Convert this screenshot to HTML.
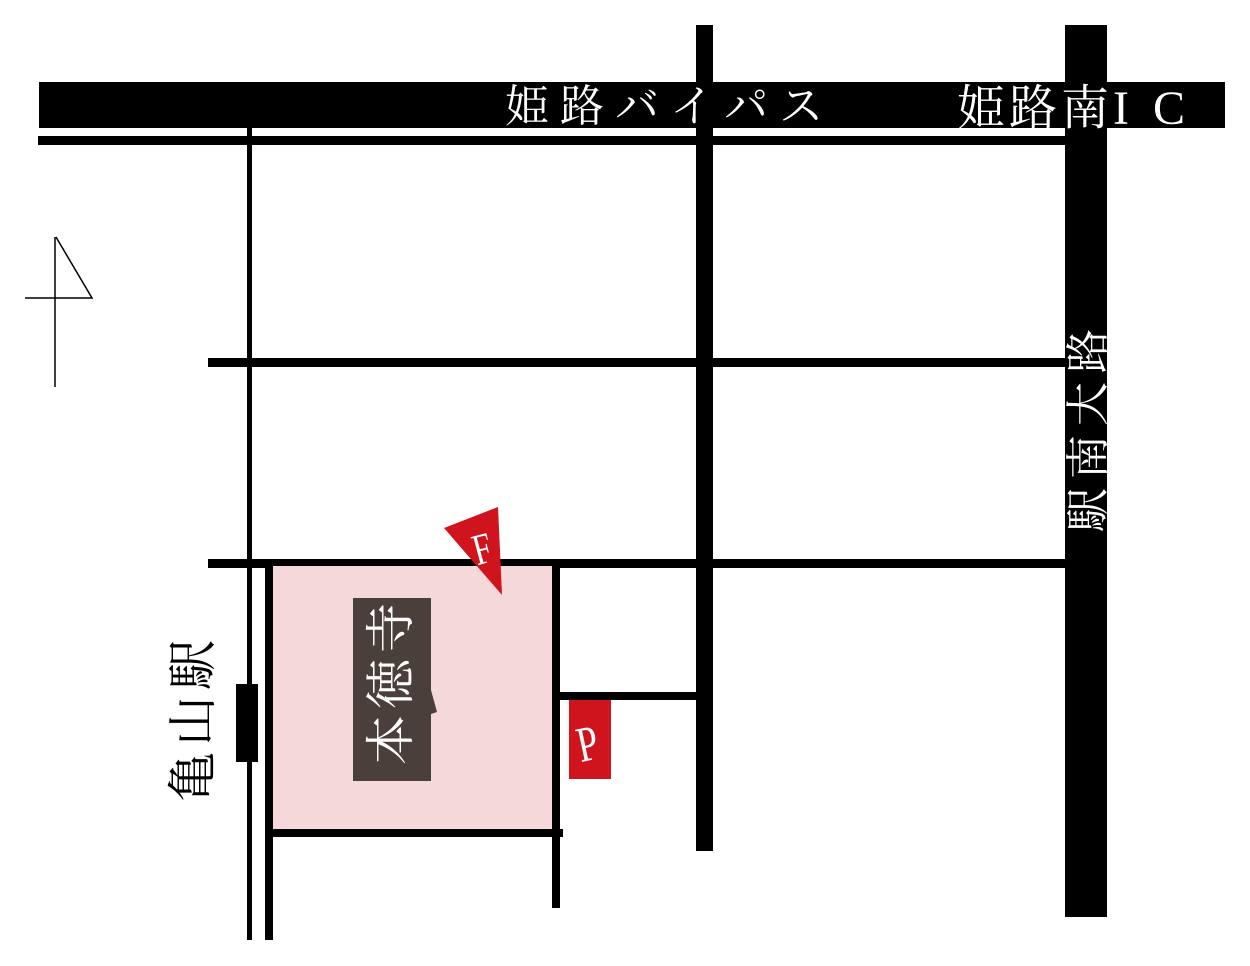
<!DOCTYPE html>
<html><head><meta charset="utf-8"><style>
html,body{margin:0;padding:0;background:#fff;width:1250px;height:966px;overflow:hidden}
text{font-family:"Liberation Serif","Noto Serif CJK SC",serif}
</style></head><body>
<svg width="1250" height="966" viewBox="0 0 1250 966" xmlns="http://www.w3.org/2000/svg">
<line x1="55" y1="237" x2="55" y2="387" stroke="#000" stroke-width="1.5"/>
<polyline points="56,237 92,298 25,298" fill="none" stroke="#000" stroke-width="1.5"/>
<rect x="39" y="82" width="1186" height="46" fill="#000"/>
<rect x="38" y="136" width="1027" height="9" fill="#000"/>
<rect x="696" y="25" width="17" height="826" fill="#000"/>
<rect x="1065" y="25" width="42" height="892" fill="#000"/>
<rect x="247" y="128" width="5" height="812" fill="#000"/>
<rect x="208" y="358" width="857" height="9" fill="#000"/>
<rect x="208" y="559" width="857" height="9" fill="#000"/>
<rect x="272" y="566" width="281" height="263" fill="#f5d9da"/>
<rect x="265" y="563" width="8" height="377" fill="#000"/>
<rect x="552" y="563" width="8" height="345" fill="#000"/>
<rect x="269" y="829" width="294" height="8" fill="#000"/>
<rect x="556" y="692" width="140" height="8" fill="#000"/>
<rect x="236" y="684" width="22" height="78" fill="#000"/>
<rect x="353" y="598" width="78" height="183" fill="#4a3f3b"/>
<polygon points="431,690 437,712 431,714" fill="#4a3f3b"/>
<text transform="translate(408,765) rotate(-90)" font-size="50" fill="#fff" letter-spacing="6">本徳寺</text>
<rect x="569" y="700" width="42" height="79" fill="#d0141d"/>
<text transform="translate(591,760) rotate(-12) scale(0.75,1)" font-size="50" fill="#fff" text-anchor="middle">P</text>
<polygon points="444,528 498,507 502,595" fill="#d0141d"/>
<text transform="translate(486,563) rotate(-15) scale(0.75,1)" font-size="44" fill="#fff" text-anchor="middle">F</text>
<text x="505" y="121" font-size="44" fill="#fff" letter-spacing="11">姫路バイパス</text>
<text x="957" y="124" font-size="48" fill="#fff" letter-spacing="4">姫路南<tspan letter-spacing="24">IC</tspan></text>
<text transform="translate(1103,532) rotate(-90)" font-size="44" fill="#fff" letter-spacing="9">駅南大路</text>
<text transform="translate(210,802) rotate(-90)" font-size="50" fill="#000" letter-spacing="6">亀山駅</text>
</svg>
</body></html>
